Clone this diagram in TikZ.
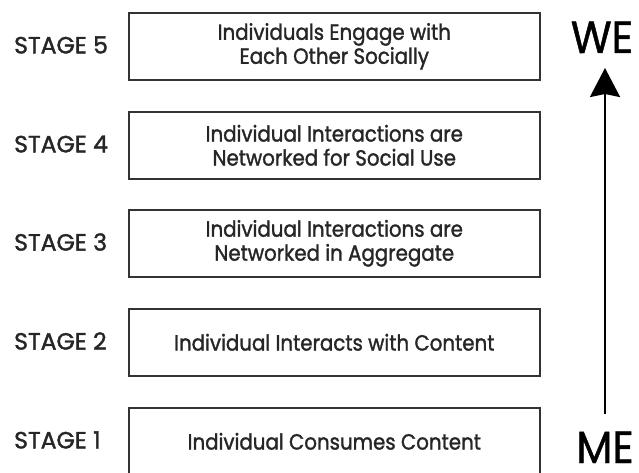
\documentclass[tikz,border=0pt]{standalone}
\usepackage{fontspec}
\setmainfont{Poppins}
\newfontfamily\boxfont{Poppins}[FakeStretch=0.9,FakeBold=1.4]
\newfontfamily\stagefont{Poppins}[FakeBold=1.6]
\newfontfamily\bigfont{Poppins}[FakeStretch=0.93,FakeBold=1]
\usetikzlibrary{arrows.meta}
\begin{document}
\begin{tikzpicture}[x=1pt,y=-1pt,
  stagebox/.style={draw=black!80,line width=1.6pt,minimum width=411pt,minimum height=67pt,anchor=north west,inner sep=0pt,align=center,font=\boxfont\fontsize{22}{24}\selectfont,text=black!85},
  stagelabel/.style={anchor=west,font=\stagefont\fontsize{23.5}{26}\selectfont,text=black!85,inner sep=0pt},
  bigword/.style={font=\bigfont\fontsize{45}{45}\selectfont,inner sep=0pt,text depth=0pt,anchor=base}]
\useasboundingbox (0,0) rectangle (639,473);
\node[stagebox] (b5) at (128,12) {Individuals Engage with\\Each Other Socially};
\node[stagebox] (b4) at (128,111) {Individual Interactions are\\Networked for Social Use};
\node[stagebox] (b3) at (128,209) {Individual Interactions are\\Networked in Aggregate};
\node[stagebox] (b2) at (128,308) {Individual Interacts with Content};
\node[stagebox] (b1) at (128,407) {Individual Consumes Content};
\node[stagelabel] (s5) at (14,45) {STAGE 5};
\node[stagelabel] (s4) at (14,144) {STAGE 4};
\node[stagelabel] (s3) at (14,242) {STAGE 3};
\node[stagelabel] (s2) at (14,341) {STAGE 2};
\node[stagelabel] (s1) at (14,440) {STAGE 1};
\node[bigword] (we) at (602,53) {WE};
\node[bigword] (me) at (605,463) {ME};
\coordinate (a0) at (605,414);
\coordinate (a1) at (605,68);
\draw[line width=2.5pt,-{Stealth[length=29pt,width=30pt,inset=3pt]}] (a0) -- (a1);
\end{tikzpicture}
\end{document}
